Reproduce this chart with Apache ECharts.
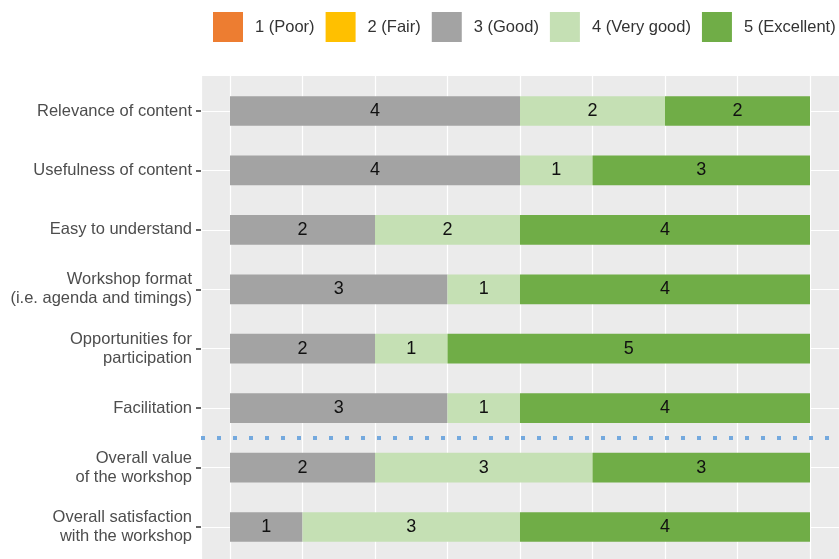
<!DOCTYPE html>
<html><head><meta charset="utf-8">
<script src="https://cdn.jsdelivr.net/npm/echarts@6/dist/echarts.min.js"></script>
<style>html,body{margin:0;padding:0;background:#fff}#c{width:839px;height:559px}</style>
</head><body><div id="c"></div>
<script>
const categories = [
  "Relevance of content",
  "Usefulness of content",
  "Easy to understand",
  "Workshop format\n(i.e. agenda and timings)",
  "Opportunities for\nparticipation",
  "Facilitation",
  "Overall value\nof the workshop",
  "Overall satisfaction\nwith the workshop"
];
const seriesNames = ["1 (Poor)", "2 (Fair)", "3 (Good)", "4 (Very good)", "5 (Excellent)"];
const poor      = [0, 0, 0, 0, 0, 0, 0, 0];
const fair      = [0, 0, 0, 0, 0, 0, 0, 0];
const good      = [4, 4, 2, 3, 2, 3, 2, 1];
const veryGood  = [2, 1, 2, 1, 1, 1, 3, 3];
const excellent = [2, 3, 4, 4, 5, 4, 3, 4];
const dividerPosition = 5.5;

const colors = ["#ED7D31", "#FFC000", "#A3A3A3", "#C5E0B4", "#70AD47"];
const values = [poor, fair, good, veryGood, excellent];
const FONT = "Liberation Sans, Arial, sans-serif";

const chart = echarts.init(document.getElementById('c'));
const barSeries = values.map((arr, i) => ({
  name: seriesNames[i],
  type: 'bar',
  stack: 'total',
  xAxisIndex: 0, yAxisIndex: 0,
  barWidth: '50%',
  itemStyle: { color: colors[i] },
  label: {
    show: true, position: 'inside', color: '#111', fontSize: 18, fontFamily: FONT,
    formatter: p => (p.value > 0 ? String(p.value) : '')
  },
  emphasis: { disabled: true },
  data: arr
}));

chart.setOption({
  animation: false,
  color: colors,
  textStyle: { fontFamily: FONT },
  legend: {
    data: seriesNames,
    left: 213, top: 12, width: 640, padding: 0,
    itemWidth: 30, itemHeight: 30, itemGap: 11,
    icon: 'rect',
    textStyle: { fontSize: 16.5, color: '#333', fontFamily: FONT, padding: [0, 0, 0, 7] }
  },
  grid: [
    { left: 201, right: 0, top: 81.3, height: 475.4, containLabel: false },
    { left: 201, right: 0, top: 75.3, bottom: 0, show: true, backgroundColor: '#EBEBEB', borderWidth: 0 }
  ],
  xAxis: [
    { gridIndex: 0, type: 'value', min: -0.4, max: 8.4, show: false },
    { gridIndex: 1, type: 'value', min: -0.4, max: 8.4, minInterval: 1, maxInterval: 1,
      axisLine: { show: false }, axisTick: { show: false }, axisLabel: { show: false },
      splitLine: { show: true, lineStyle: { color: '#FFFFFF', width: 1.2 } } }
  ],
  yAxis: [
    { gridIndex: 0, type: 'category', data: categories, inverse: true,
      axisLine: { show: false, onZero: false },
      axisTick: { show: true, alignWithLabel: true, length: 5, lineStyle: { color: '#333', width: 1.5 } },
      axisLabel: { color: '#4D4D4D', fontSize: 16.5, fontFamily: FONT, margin: 9, lineHeight: 19, align: 'right' },
      splitLine: { show: false } },
    { gridIndex: 1, type: 'value', min: -0.6, max: 7.538, inverse: true, minInterval: 1, maxInterval: 1,
      axisLine: { show: false }, axisTick: { show: false }, axisLabel: { show: false },
      splitLine: { show: true, lineStyle: { color: '#FFFFFF', width: 1.2 } } }
  ],
  series: [
    ...barSeries,
    { type: 'line', xAxisIndex: 1, yAxisIndex: 1, data: [], silent: true,
      markLine: { silent: true, symbol: 'none', label: { show: false },
        lineStyle: { color: '#74A9DE', width: 4, type: [4, 12] },
        data: [{ yAxis: dividerPosition }] } }
  ]
});
</script></body></html>
